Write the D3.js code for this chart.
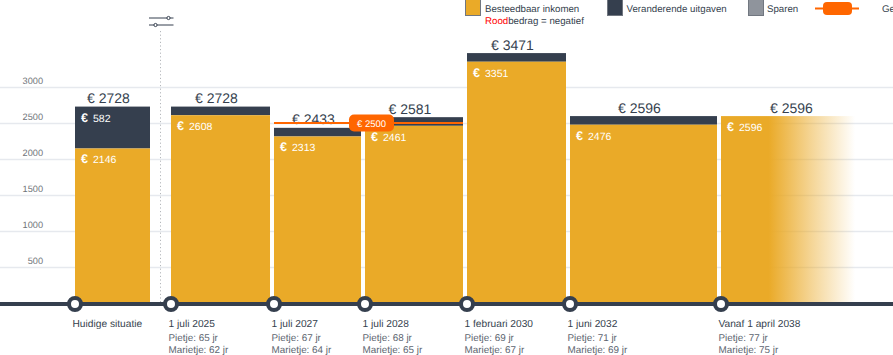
<!DOCTYPE html>
<html>
<head>
<meta charset="utf-8">
<script src="https://cdn.jsdelivr.net/npm/d3@7"></script>
<style>
    html, body { margin: 0; padding: 0; background: #fff; overflow: hidden; }
    text { font-family: "Liberation Sans", Arial, sans-serif; text-rendering: geometricPrecision; }
</style>
</head>
<body>
<div id="chart"></div>
<script>
// values
const dates = ["2023-01-01", "2025-07-01", "2027-07-01", "2028-07-01", "2030-02-01", "2032-06-01", "2038-04-01", "2042-01-01"];
const inkomen = [2146, 2608, 2313, 2461, 3351, 2476, 2596];
const uitgaven = [582, 120, 120, 120, 120, 120, 0];
const totalen = [2728, 2728, 2433, 2581, 3471, 2596, 2596];
const yTicks = [500, 1000, 1500, 2000, 2500, 3000];
const titels = ["Huidige situatie", "1 juli 2025", "1 juli 2027", "1 juli 2028", "1 februari 2030", "1 juni 2032", "Vanaf 1 april 2038"];
const pietje = [null, 65, 67, 68, 69, 71, 77];
const marietje = [null, 62, 64, 65, 67, 69, 75];
const gewenst = 2500;
const gewenstVan = 2;   // from the bar of 1 juli 2027
const gewenstTot = 3;   // up to the end of the bar of 1 juli 2028
const legendaNamen = ["Besteedbaar inkomen", "Veranderende uitgaven", "Sparen", "Gewenst inkomen"];

// layout
const width = 893, height = 355;
const colInkomen = "#eaaa28", colUitgaven = "#353f4e", colSparen = "#8f949c", colOranje = "#ff6600";
const parseDate = d3.timeParse("%Y-%m-%d");
// the timeline is not to scale, so the date scale gets a stop for every date
const xStops = [75, 171, 274, 365, 467, 570, 721, 870];
const barGap = 4, firstBarGap = 21;

const svg = d3.select("#chart").append("svg")
    .attr("width", width)
    .attr("height", height)
    .style("display", "block");

let xScale = d3.scaleTime().domain(dates.map(parseDate)).range(xStops);
let yScale = d3.scaleLinear().domain([0, 3000]).range([303, 87]);

const fade = svg.append("defs").append("linearGradient").attr("id", "fade");
fade.append("stop").attr("offset", "0.32").attr("stop-color", colInkomen);
fade.append("stop").attr("offset", "0.6").attr("stop-color", colInkomen).attr("stop-opacity", 0.5);
fade.append("stop").attr("offset", "0.9").attr("stop-color", colInkomen).attr("stop-opacity", 0);

// grid and y labels
svg.append("g")
    .call(d3.axisLeft(yScale).tickValues(yTicks).tickSize(0).tickPadding(0))
    .call(g => g.select(".domain").remove())
    .call(g => g.selectAll(".tick").append("line")
        .attr("x1", 0).attr("x2", width)
        .attr("stroke", "#e6e9ee").attr("stroke-width", 1.5))
    .call(g => g.selectAll(".tick text")
        .attr("x", 43)
        .attr("dy", -3.5)
        .attr("text-anchor", "end")
        .attr("fill", "#6f7379")
        .attr("font-size", 9.2));
svg.selectAll(".tick text").text(d => d);

// dotted line for the current date
svg.append("line")
    .attr("x1", 160.5).attr("x2", 160.5)
    .attr("y1", 31).attr("y2", 304)
    .attr("stroke", "#b4b7bb")
    .attr("stroke-dasharray", "1.2,2.4");

// slider icon
const icon = svg.append("g").attr("stroke", colUitgaven).attr("fill", "#fff");
[[18, 168.5], [25, 155.5]].forEach(d => {
    icon.append("line").attr("x1", 149).attr("x2", 173.5).attr("y1", d[0]).attr("y2", d[0]);
    icon.append("circle").attr("cx", d[1]).attr("cy", d[0]).attr("r", 1.6);
});

// bars
const barLeft = i => xScale(parseDate(dates[i]));
const barRight = i => xScale(parseDate(dates[i + 1])) - (i == 0 ? firstBarGap : i == 6 ? 0 : barGap);

const bars = svg.selectAll(".bar").data(dates.slice(0, -1)).enter().append("g").attr("class", "bar");

bars.append("rect")
    .attr("x", (d, i) => barLeft(i))
    .attr("y", (d, i) => yScale(totalen[i]))
    .attr("width", (d, i) => barRight(i) - barLeft(i))
    .attr("height", (d, i) => yScale(inkomen[i]) - yScale(totalen[i]))
    .attr("fill", colUitgaven);

bars.append("rect")
    .attr("x", (d, i) => barLeft(i))
    .attr("y", (d, i) => yScale(inkomen[i]))
    .attr("width", (d, i) => barRight(i) - barLeft(i))
    .attr("height", (d, i) => yScale(0) - yScale(inkomen[i]))
    .attr("fill", (d, i) => i == 6 ? "url(#fade)" : colInkomen);

// amounts in the bars
function euroLabel(sel, value, x, y) {
    sel.append("text").attr("x", x).attr("y", y)
        .attr("fill", "#fff").attr("font-size", 12.5).attr("font-weight", "bold").text("€");
    sel.append("text").attr("x", x + 12).attr("y", y)
        .attr("fill", "#fff").attr("font-size", 10.5).text(value);
}
bars.each(function(d, i) {
    let g = d3.select(this);
    let x = barLeft(i) + 6;
    euroLabel(g, inkomen[i], x, yScale(inkomen[i]) + 15);
    if (i == 0) euroLabel(g, uitgaven[i], x, yScale(totalen[i]) + 15.5);
});

// totals above the bars
bars.append("text")
    .attr("x", (d, i) => (barLeft(i) + barRight(i)) / 2 - 4)
    .attr("y", (d, i) => yScale(totalen[i]) - 3.5)
    .attr("text-anchor", "middle")
    .attr("fill", colUitgaven)
    .attr("font-size", 14)
    .text((d, i) => "€ " + totalen[i]);

// desired income line + badge
svg.append("line")
    .attr("x1", barLeft(gewenstVan)).attr("x2", barRight(gewenstTot))
    .attr("y1", yScale(gewenst)).attr("y2", yScale(gewenst))
    .attr("stroke", colOranje).attr("stroke-width", 2);
svg.append("rect")
    .attr("x", 349).attr("y", yScale(gewenst) - 8.5)
    .attr("width", 45).attr("height", 17).attr("rx", 5)
    .attr("fill", colOranje);
svg.append("text")
    .attr("x", 371.5).attr("y", yScale(gewenst) + 3.5)
    .attr("text-anchor", "middle")
    .attr("fill", "#fff")
    .attr("font-size", 9.5)
    .text("€ " + gewenst);

// timeline
svg.append("line")
    .attr("x1", 0).attr("x2", width)
    .attr("y1", 304).attr("y2", 304)
    .attr("stroke", colUitgaven).attr("stroke-width", 4);

const stops = svg.selectAll(".stop").data(dates.slice(0, -1)).enter().append("g").attr("class", "stop")
    .attr("transform", d => "translate(" + xScale(parseDate(d)) + ",304)");
stops.append("circle").attr("r", 6).attr("fill", "#fff").attr("stroke", colUitgaven).attr("stroke-width", 4);
stops.append("text").attr("x", -2.5).attr("y", 23)
    .attr("fill", colUitgaven).attr("font-size", 10.2)
    .text((d, i) => titels[i]);
stops.append("text").attr("x", -2.5).attr("y", 36.5)
    .attr("fill", "#5d6570").attr("font-size", 9.9)
    .text((d, i) => pietje[i] == null ? "" : "Pietje: " + pietje[i] + " jr");
stops.append("text").attr("x", -2.5).attr("y", 49)
    .attr("fill", "#5d6570").attr("font-size", 9.9)
    .text((d, i) => marietje[i] == null ? "" : "Marietje: " + marietje[i] + " jr");

// legend
const legend = svg.append("g");
[[465.5, colInkomen], [607.5, colUitgaven], [748.5, colSparen]].forEach(d => {
    legend.append("rect")
        .attr("x", d[0]).attr("y", -0.5)
        .attr("width", 15).attr("height", 16)
        .attr("fill", d[1]).attr("stroke", "#717780");
});
[[485, 0], [626.5, 1], [767, 2], [882, 3]].forEach(d => {
    legend.append("text").attr("x", d[0]).attr("y", 12)
        .attr("fill", colUitgaven).attr("font-size", 9.7)
        .text(legendaNamen[d[1]]);
});
let note = legend.append("text").attr("x", 485).attr("y", 23.5)
    .attr("fill", colUitgaven).attr("font-size", 9.7);
note.append("tspan").attr("fill", "#ff0000").text("Rood");
note.append("tspan").text("bedrag = negatief");
legend.append("line").attr("x1", 815).attr("x2", 859).attr("y1", 8.5).attr("y2", 8.5)
    .attr("stroke", colOranje).attr("stroke-width", 2);
legend.append("rect").attr("x", 823).attr("y", 2).attr("width", 29).attr("height", 13).attr("rx", 4)
    .attr("fill", colOranje);
</script>
</body>
</html>
